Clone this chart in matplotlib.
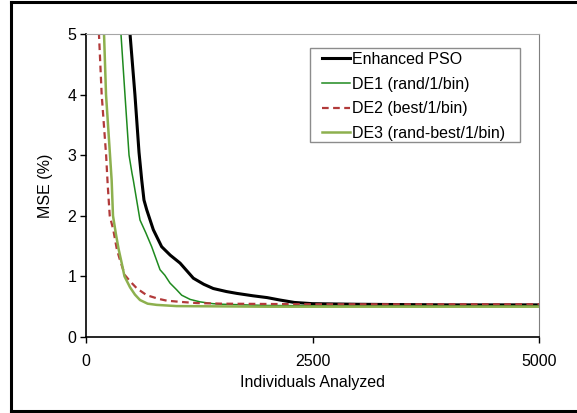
import matplotlib
matplotlib.use("Agg")
import matplotlib.pyplot as plt
from matplotlib.patches import Rectangle
from matplotlib.lines import Line2D

plt.rcParams['font.family'] = ['Liberation Sans', 'DejaVu Sans']

labels = ["Enhanced PSO", "DE1 (rand/1/bin)", "DE2 (best/1/bin)", "DE3 (rand-best/1/bin)"]

pso_x = [440, 486, 540, 585, 615, 640, 670, 743, 835, 930, 1038, 1185, 1300, 1405, 1550, 1663, 1843, 2000, 2141, 2300, 2500, 3000, 4000, 5000]
pso_y = [6.0, 5.0, 4.0, 3.05, 2.59, 2.26, 2.10, 1.77, 1.49, 1.35, 1.22, 0.97, 0.87, 0.80, 0.75, 0.72, 0.68, 0.65, 0.61, 0.57, 0.55, 0.54, 0.53, 0.53]

de1_x = [360, 386, 430, 475, 508, 522, 596, 660, 725, 817, 870, 927, 1000, 1056, 1150, 1258, 1400, 1512, 2000, 3000, 5000]
de1_y = [6.0, 5.0, 4.0, 3.0, 2.7, 2.59, 1.93, 1.72, 1.49, 1.11, 1.02, 0.89, 0.78, 0.69, 0.62, 0.58, 0.55, 0.54, 0.52, 0.51, 0.51]

de2_x = [110, 143, 173, 222, 240, 262, 301, 340, 375, 430, 486, 563, 670, 800, 890, 1037, 1222, 1500, 2500, 5000]
de2_y = [7.0, 5.0, 4.0, 3.0, 2.5, 2.0, 1.77, 1.45, 1.27, 1.02, 0.92, 0.80, 0.69, 0.63, 0.60, 0.58, 0.56, 0.55, 0.54, 0.54]

de3_x = [180, 199, 221, 265, 283, 298, 330, 360, 394, 425, 486, 540, 596, 680, 780, 1000, 2000, 5000]
de3_y = [6.0, 5.0, 4.0, 3.0, 2.59, 2.0, 1.70, 1.45, 1.22, 1.0, 0.82, 0.70, 0.61, 0.55, 0.53, 0.51, 0.50, 0.50]

x_ticks = [0, 2500, 5000]
y_ticks = [0, 1, 2, 3, 4, 5]

fig = plt.figure(figsize=(5.77, 4.13), dpi=100)
ax = fig.add_axes([86/577, 1 - 337/413, (539-86)/577, (337-34)/413])

ax.plot(pso_x, pso_y, color='black', lw=2.2, label=labels[0])
ax.plot(de1_x, de1_y, color='#1F8A1F', lw=1.1, label=labels[1])
ax.plot(de2_x, de2_y, color='#B23A3A', lw=1.6, ls=(0, (3, 2)), label=labels[2])
ax.plot(de3_x, de3_y, color='#8DB04E', lw=1.8, label=labels[3])

ax.set_xlim(0, 5000)
ax.set_ylim(0, 5)
ax.set_xticks(x_ticks)
ax.set_yticks(y_ticks)
ax.tick_params(axis='both', direction='out', length=4, width=1, labelsize=11.5, colors='black')
ax.tick_params(axis='x', pad=8.5)
ax.tick_params(axis='y', pad=3)

ax.spines['left'].set_color('black')
ax.spines['bottom'].set_color('black')
ax.spines['left'].set_linewidth(1.2)
ax.spines['bottom'].set_linewidth(1.2)
ax.spines['top'].set_color('#A6A6A6')
ax.spines['right'].set_color('#7F7F7F')

ax.set_xlabel("Individuals Analyzed", fontsize=11.5, labelpad=4)
ax.set_ylabel("MSE (%)", fontsize=11.5, labelpad=10)

leg = ax.legend(loc='upper left', bbox_to_anchor=((322-86)/453, (337-52)/303),
                frameon=False, fontsize=11.5, handlelength=1.75, handletextpad=0.15,
                labelspacing=0.6, borderpad=0, borderaxespad=0)
ax.add_patch(Rectangle(((310-86)/453, (337-142)/303), (520-310)/453, (142-48)/303,
                       transform=ax.transAxes, fill=False, edgecolor='#8C8C8C', lw=1.0, zorder=5))

xl, yt, yb = 10.5/577, 1 - 1.5/413, 1 - 410.5/413
for xs, ys in [([xl, xl], [yb, yt]), ([xl, 1.01], [yt, yt]), ([xl, 1.01], [yb, yb])]:
    fig.add_artist(Line2D(xs, ys, transform=fig.transFigure, color='black', lw=2.2,
                          solid_capstyle='projecting'))

fig.savefig("out.png", dpi=100)
